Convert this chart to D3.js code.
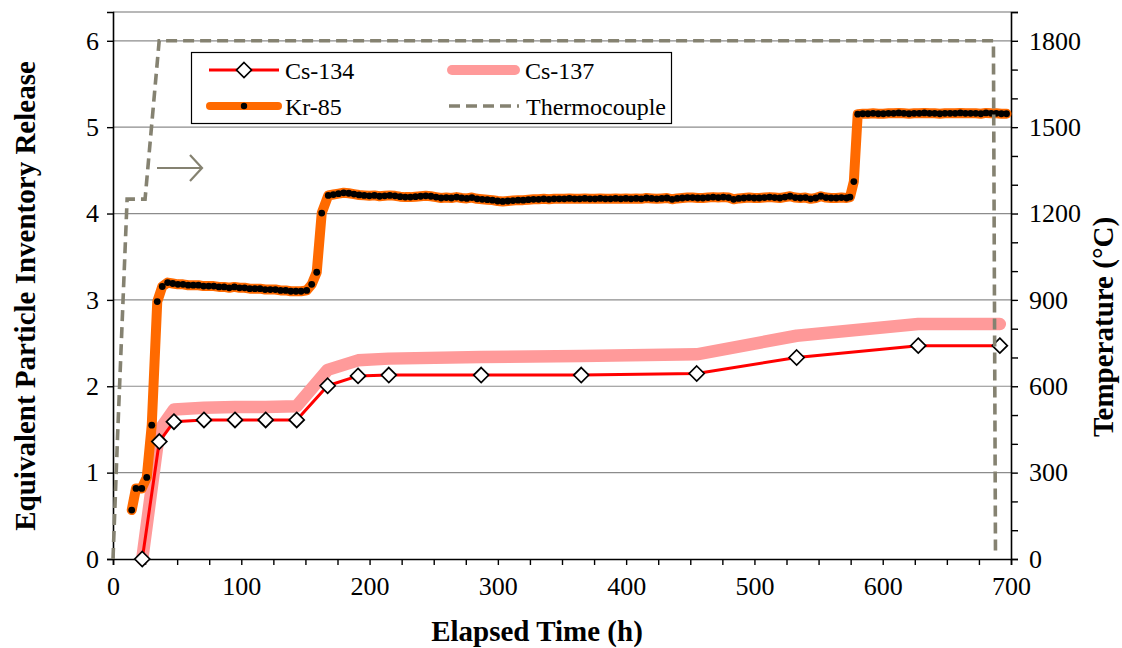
<!DOCTYPE html>
<html><head><meta charset="utf-8">
<script src="https://cdn.jsdelivr.net/npm/d3@7"></script>
<style>body{margin:0;background:#fff}svg{display:block}text{font-family:"Liberation Serif","Times New Roman",serif}</style>
</head><body><svg id="c" width="1122" height="648"></svg>
<script>
// ---- data ----
const xTicks = [0,100,200,300,400,500,600,700];
const yTicks = [0,1,2,3,4,5,6];
const tempTicks = [0,300,600,900,1200,1500,1800];

const csTime = [22.8,36.1,47.5,70.9,95.1,119,143.2,167.3,191,215,287,365,455,532.9,627.7,691.3];
const cs134 = [0,1.36,1.59,1.61,1.61,1.61,1.61,2.006,2.12,2.13,2.13,2.13,2.148,2.333,2.47,2.47];
const cs137 = [0,1.49,1.73,1.75,1.76,1.76,1.77,2.19,2.30,2.32,2.34,2.35,2.37,2.585,2.72,2.72];

const krTime = [14.6,17.9,22.4,26.3,30.2,34.5,38.4,42.6,
 46.6,50.6,54.6,58.6,62.6,66.6,70.6,74.6,78.6,82.6,86.6,90.6,94.6,98.6,102.6,106.6,110.6,114.6,118.6,122.6,126.6,130.6,134.6,138.6,142.6,146.6,151,154.9,158.8,162.7,167.8,
 171.8,175.8,179.8,183.8,187.8,191.8,195.8,199.8,203.8,207.8,211.8,215.8,219.8,223.8,227.8,231.8,235.8,239.8,243.8,247.8,251.8,255.8,259.8,263.8,267.8,271.8,275.8,279.8,283.8,287.8,291.8,295.8,299.8,303.8,307.8,311.8,315.8,319.8,323.8,327.8,331.8,335.8,339.8,343.8,347.8,351.8,355.8,359.8,363.8,367.8,371.8,375.8,379.8,383.8,387.8,391.8,395.8,399.8,403.8,407.8,411.8,415.8,419.8,423.8,427.8,431.8,435.8,439.8,443.8,447.8,451.8,455.8,459.8,463.8,467.8,471.8,475.8,479.8,483.8,487.8,491.8,495.8,499.8,503.8,507.8,511.8,515.8,519.8,523.8,527.8,531.8,535.8,539.8,543.8,547.8,551.8,555.8,559.8,563.8,567.8,571.8,574.5,
 577.5,580.5,584.5,588.5,592.5,596.5,600.5,604.5,608.5,612.5,616.5,620.5,624.5,628.5,632.5,636.5,640.5,644.5,648.5,652.5,656.5,660.5,664.5,668.5,672.5,676.5,680.5,684.5,688.5,692.5,696.5];
const kr85 = [0.567,0.817,0.817,0.944,1.55,2.98,3.155,3.20,
 3.19,3.18,3.18,3.17,3.17,3.17,3.16,3.16,3.16,3.15,3.15,3.14,3.15,3.14,3.14,3.13,3.13,3.13,3.12,3.12,3.12,3.11,3.11,3.10,3.10,3.10,3.11,3.18,3.32,4.005,4.21,
 4.22,4.23,4.24,4.235,4.225,4.215,4.21,4.205,4.21,4.2,4.205,4.21,4.205,4.195,4.19,4.19,4.195,4.2,4.205,4.2,4.19,4.18,4.185,4.18,4.19,4.18,4.175,4.185,4.17,4.165,4.16,4.155,4.145,4.14,4.145,4.15,4.155,4.155,4.16,4.165,4.165,4.17,4.165,4.17,4.17,4.17,4.175,4.17,4.17,4.175,4.17,4.17,4.175,4.17,4.17,4.175,4.17,4.175,4.17,4.175,4.17,4.18,4.175,4.17,4.175,4.18,4.165,4.175,4.18,4.185,4.185,4.18,4.18,4.185,4.19,4.185,4.19,4.185,4.165,4.175,4.18,4.185,4.18,4.18,4.185,4.19,4.185,4.18,4.19,4.2,4.185,4.18,4.185,4.17,4.18,4.2,4.185,4.18,4.18,4.185,4.18,4.19,
 4.37,5.15,5.155,5.155,5.16,5.155,5.155,5.16,5.16,5.165,5.16,5.155,5.16,5.16,5.165,5.16,5.16,5.155,5.16,5.16,5.16,5.165,5.16,5.16,5.16,5.155,5.165,5.16,5.16,5.155,5.155];

const tcTime = [0,3.5,11,25,36,686.3,687.9];
const tcTemp = [0,420,1250,1250,1800,1800,25];

// ---- layout ----
const svg = d3.select("#c");
const L = 113, R = 1011, B = 559, T = 12;
const x = d3.scaleLinear().domain([0,700]).range([L,R]);
const y = d3.scaleLinear().domain([0,6*1900/1800]).range([B,T]);
const yT = d3.scaleLinear().domain([0,1900]).range([B,T]);

// gridlines
svg.append("g").selectAll("line").data(yTicks.filter(d=>d>0)).join("line")
  .attr("x1",L).attr("x2",R).attr("y1",d=>y(d)).attr("y2",d=>y(d))
  .attr("stroke","#8c8c8c").attr("stroke-width",1.2);
// plot top border
svg.append("line").attr("x1",L).attr("x2",R).attr("y1",T).attr("y2",T).attr("stroke","#a0a0a0").attr("stroke-width",1.5);

// axes
const fs = "26px";
const gx = svg.append("g").attr("transform",`translate(0,${B})`)
  .call(d3.axisBottom(x).tickValues(d3.range(0,701,25)).tickSize(6).tickFormat(d=>xTicks.includes(d)?d:""));
const gy = svg.append("g").attr("transform",`translate(${L},0)`)
  .call(d3.axisLeft(y).tickValues(yTicks).tickSize(6).tickFormat(d3.format("d")));
const gr = svg.append("g").attr("transform",`translate(${R},0)`)
  .call(d3.axisRight(yT).tickValues(d3.range(0,1901,100)).tickSize(7).tickFormat(d=>tempTicks.includes(d)?d:""));
[gx,gy,gr].forEach(g=>{
  g.select(".domain").attr("stroke","#000").attr("stroke-width",1.6);
  g.selectAll(".tick line").attr("stroke","#000").attr("stroke-width",1.4);
  g.selectAll(".tick text").attr("font-size",fs).attr("fill","#000");
});
gx.selectAll(".tick text").attr("dy","0.75em").attr("y",16);
gy.selectAll(".tick text").attr("x",-14);
gr.selectAll(".tick text").attr("x",18);

// axis titles
svg.append("text").attr("x",537).attr("y",641).attr("text-anchor","middle")
  .attr("font-size","29px").attr("font-weight","bold").text("Elapsed Time (h)");
svg.append("text").attr("transform","translate(35,296) rotate(-90)").attr("text-anchor","middle")
  .attr("font-size","29px").attr("font-weight","bold").text("Equivalent Particle Inventory Release");
svg.append("text").attr("transform","translate(1113,327) rotate(-90)").attr("text-anchor","middle")
  .attr("font-size","29px").attr("font-weight","bold").text("Temperature (°C)");

// series
const csData137 = csTime.map((t,i)=>[t,cs137[i]]);
const csData134 = csTime.map((t,i)=>[t,cs134[i]]);
const krData = krTime.map((t,i)=>[t,kr85[i]]);
const tcData = tcTime.map((t,i)=>[t,tcTemp[i]]);
const line = d3.line().x(d=>x(d[0])).y(d=>y(d[1]));
const lineT = d3.line().x(d=>x(d[0])).y(d=>yT(d[1]));

const TC = "#858271";
svg.append("path").attr("d",line(csData137)).attr("fill","none").attr("stroke","#ff9a9a")
  .attr("stroke-width",12.5).attr("stroke-linecap","round").attr("stroke-linejoin","round");
svg.append("path").attr("d",line(krData)).attr("fill","none").attr("stroke","#ff6a00")
  .attr("stroke-width",10).attr("stroke-linecap","round").attr("stroke-linejoin","round");
svg.append("g").selectAll("circle").data(krData).join("circle")
  .attr("cx",d=>x(d[0])).attr("cy",d=>y(d[1])).attr("r",3.4).attr("fill","#000");
svg.append("path").attr("d",line(csData134)).attr("fill","none").attr("stroke","#ff0000")
  .attr("stroke-width",3).attr("stroke-linejoin","round");
const dia = (cx,cy,s)=>`M${cx},${cy-s}L${cx+s},${cy}L${cx},${cy+s}L${cx-s},${cy}Z`;
svg.append("g").selectAll("path").data(csData134).join("path")
  .attr("d",d=>dia(x(d[0]),y(d[1]),7.5)).attr("fill","#fff").attr("stroke","#000").attr("stroke-width",1.7);
svg.append("path").attr("d",lineT(tcData)).attr("fill","none").attr("stroke",TC)
  .attr("stroke-width",3.6).attr("stroke-dasharray","11,6");

// arrow
svg.append("path").attr("d","M157,168L201,168M190,155L202,168L190,181").attr("fill","none")
  .attr("stroke",TC).attr("stroke-width",2.2);

// legend
const lg = svg.append("g");
lg.append("rect").attr("x",191.5).attr("y",52.5).attr("width",480).attr("height",71)
  .attr("fill","#fff").attr("stroke","#000").attr("stroke-width",1.2);
const lfs="24px";
// Cs-134
lg.append("line").attr("x1",209).attr("x2",279).attr("y1",70).attr("y2",70).attr("stroke","#ff0000").attr("stroke-width",3);
lg.append("path").attr("d",dia(244,70,7.5)).attr("fill","#fff").attr("stroke","#000").attr("stroke-width",1.7);
lg.append("text").attr("x",285).attr("y",79).attr("font-size",lfs).text("Cs-134");
// Cs-137
lg.append("line").attr("x1",452).attr("x2",515).attr("y1",70).attr("y2",70).attr("stroke","#ff9a9a").attr("stroke-width",10).attr("stroke-linecap","round");
lg.append("text").attr("x",525).attr("y",79).attr("font-size",lfs).text("Cs-137");
// Kr-85
lg.append("line").attr("x1",210).attr("x2",278).attr("y1",106).attr("y2",106).attr("stroke","#ff6a00").attr("stroke-width",8).attr("stroke-linecap","round");
lg.append("circle").attr("cx",244).attr("cy",106).attr("r",3.2).attr("fill","#000");
lg.append("text").attr("x",285).attr("y",115).attr("font-size",lfs).text("Kr-85");
// Thermocouple
lg.append("line").attr("x1",449).attr("x2",519).attr("y1",106).attr("y2",106).attr("stroke",TC).attr("stroke-width",3.4).attr("stroke-dasharray","11,6");
lg.append("text").attr("x",526).attr("y",115).attr("font-size",lfs).text("Thermocouple");
</script></body></html>
